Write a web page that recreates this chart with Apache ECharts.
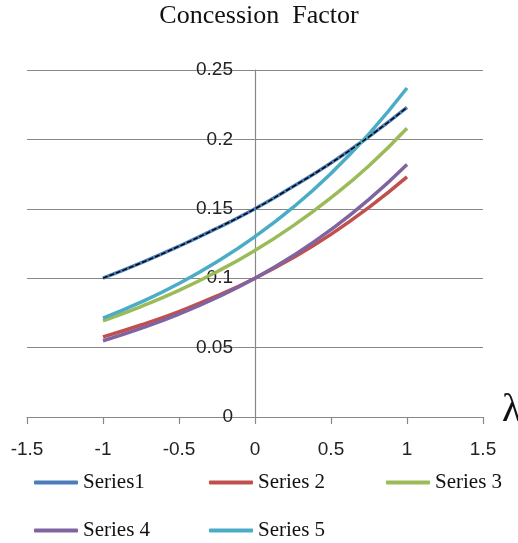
<!DOCTYPE html>
<html>
<head>
<meta charset="utf-8">
<script src="https://cdn.jsdelivr.net/npm/echarts@6/dist/echarts.min.js"></script>
<style>
html,body{margin:0;padding:0;background:#fff;}
#chart{width:518px;height:543px;}
</style>
</head>
<body>
<div id="chart"></div>
<script>
// Data
var lambdas = [-1, -0.75, -0.5, -0.25, 0, 0.25, 0.5, 0.75, 1];
var series1 = [0.100, 0.111, 0.123, 0.136, 0.150, 0.166, 0.183, 0.202, 0.223];
var series2 = [0.0577, 0.0663, 0.0760, 0.0872, 0.100, 0.1147, 0.1316, 0.151, 0.173];
var series3 = [0.0693, 0.0796, 0.0912, 0.1047, 0.120, 0.1377, 0.158, 0.181, 0.208];
var series4 = [0.0549, 0.0638, 0.0741, 0.0861, 0.100, 0.1162, 0.135, 0.1568, 0.182];
var series5 = [0.0713, 0.0828, 0.0962, 0.1119, 0.130, 0.151, 0.1755, 0.204, 0.237];
var seriesNames = ['Series1', 'Series 2', 'Series 3', 'Series 4', 'Series 5'];
var seriesColors = ['#4A7EBB', '#C0504D', '#9BBB59', '#8064A2', '#4BACC6'];
var titleText = 'Concession  Factor';
var xName = 'λ';

function pairs(vals){ return lambdas.map(function(x,i){ return [x, vals[i]]; }); }
var allVals = [series1, series2, series3, series4, series5];

var seriesList = allVals.map(function(v, i){
  return {
    name: seriesNames[i], type: 'line', smooth: true, symbol: 'none',
    data: pairs(v),
    lineStyle: {color: seriesColors[i], width: 3.5},
    itemStyle: {color: seriesColors[i]},
    z: 3
  };
});
// dark dashed core of Series1 as seen in the reference
seriesList.push({
  name: 'Series1-core', type: 'line', smooth: true, symbol: 'none',
  data: pairs(series1),
  lineStyle: {color: '#000', width: 1.4, type: [5, 2]},
  z: 4, silent: true
});

var legendPos = [[34, 472], [209, 472], [386, 472], [34, 520], [209, 520]];
var legends = seriesNames.map(function(n, i){
  return {
    data: [n], left: legendPos[i][0], top: legendPos[i][1], padding: 0,
    icon: 'roundRect', itemWidth: 44, itemHeight: 4, itemGap: 0,
    textStyle: {fontFamily: 'Liberation Serif', fontSize: 21, color: '#111'},
    selectedMode: false
  };
});

var chart = echarts.init(document.getElementById('chart'), null, {renderer: 'canvas'});
chart.setOption({
  animation: false,
  backgroundColor: '#fff',
  title: {
    text: titleText, left: 'center', top: -2,
    textStyle: {fontFamily: 'Liberation Serif', fontSize: 26, fontWeight: 'normal', color: '#111'}
  },
  legend: legends,
  grid: {left: 27, right: 35, top: 70, bottom: 126, containLabel: false, outerBoundsMode: 'none'},
  xAxis: {
    type: 'value', min: -1.5, max: 1.5, interval: 0.5,
    name: xName, nameLocation: 'end', nameGap: 19,
    nameTextStyle: {fontFamily: 'Liberation Serif', fontSize: 40, color: '#111', verticalAlign: 'bottom', lineHeight: 14},
    axisLine: {onZero: true, lineStyle: {color: '#888', width: 1.2}},
    axisTick: {show: true, length: 7, inside: false, lineStyle: {color: '#888', width: 1.2}},
    axisLabel: {fontFamily: 'Liberation Sans', fontSize: 19, color: '#222', margin: 23},
    splitLine: {show: false}
  },
  yAxis: {
    type: 'value', min: 0, max: 0.25, interval: 0.05,
    position: 'left', offset: -228,
    axisLine: {show: true, onZero: false, lineStyle: {color: '#888', width: 1.2}},
    axisTick: {show: false},
    axisLabel: {fontFamily: 'Liberation Sans', fontSize: 19, color: '#222', margin: 22},
    splitLine: {show: true, lineStyle: {color: '#888', width: 1.2}}
  },
  series: seriesList
});
</script>
</body>
</html>
